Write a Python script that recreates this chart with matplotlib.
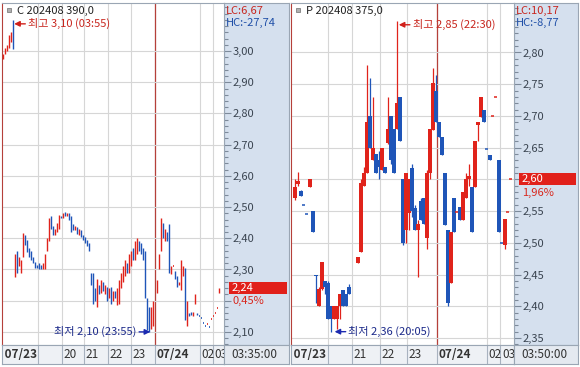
import matplotlib.pyplot as plt
from matplotlib.patches import Rectangle
from matplotlib.transforms import blended_transform_factory, offset_copy
from matplotlib.ticker import MultipleLocator, FixedLocator, FuncFormatter

plt.rcParams['font.family'] = ['Noto Sans CJK KR', 'DejaVu Sans']

# ---- C 202408 390,0 : 5분봉 (slot = 봉 순번) ----
c_slot = list(range(0, 76)) + list(range(77, 109))
c_open = [2.975, 2.990, 3.000, 3.010, 3.030, 3.100, 2.290, 2.350, 2.310, 2.290,
          2.350, 2.410, 2.390, 2.370, 2.350, 2.340, 2.320, 2.315, 2.320, 2.315,
          2.300, 2.300, 2.360, 2.390, 2.460, 2.440, 2.410, 2.420, 2.430, 2.470,
          2.465, 2.485, 2.470, 2.480, 2.460, 2.440, 2.425, 2.435, 2.420, 2.425,
          2.410, 2.405, 2.395, 2.385, 2.290, 2.270, 2.240, 2.200, 2.250, 2.230,
          2.260, 2.220, 2.245, 2.210, 2.245, 2.200, 2.230, 2.190, 2.190, 2.240,
          2.260, 2.280, 2.320, 2.290, 2.310, 2.370, 2.330, 2.350, 2.390, 2.385,
          2.370, 2.360, 2.210, 2.180, 2.110, 2.120,
          2.225, 2.300, 2.360, 2.440, 2.390, 2.420, 2.445, 2.285, 2.310, 2.295,
          2.280, 2.250, 2.250, 2.280, 2.305, 2.120, 2.160, 2.165, 2.150, 2.190,
          2.160, 2.150, 2.145, 2.130, 2.120, 2.125, 2.115, 2.140, 2.150, 2.160,
          2.175, 2.225]
c_high = [2.990, 3.010, 3.020, 3.050, 3.060, 3.100, 2.350, 2.360, 2.340, 2.330,
          2.417, 2.410, 2.395, 2.370, 2.360, 2.340, 2.325, 2.315, 2.320, 2.315,
          2.320, 2.350, 2.400, 2.465, 2.470, 2.440, 2.430, 2.450, 2.475, 2.470,
          2.480, 2.485, 2.480, 2.480, 2.470, 2.445, 2.440, 2.435, 2.430, 2.425,
          2.410, 2.405, 2.395, 2.385, 2.290, 2.290, 2.240, 2.270, 2.250, 2.267,
          2.260, 2.250, 2.245, 2.240, 2.245, 2.230, 2.230, 2.240, 2.265, 2.290,
          2.310, 2.330, 2.320, 2.350, 2.360, 2.370, 2.390, 2.400, 2.390, 2.385,
          2.370, 2.360, 2.210, 2.180, 2.180, 2.200,
          2.265, 2.350, 2.465, 2.450, 2.430, 2.420, 2.445, 2.310, 2.310, 2.295,
          2.280, 2.260, 2.330, 2.310, 2.305, 2.200, 2.160, 2.165, 2.165, 2.220,
          2.160, 2.150, 2.145, 2.130, 2.120, 2.125, 2.115, 2.140, 2.150, 2.160,
          2.175, 2.240]
c_low = [2.975, 2.990, 3.000, 3.010, 3.030, 3.005, 2.275, 2.290, 2.310, 2.290,
         2.340, 2.380, 2.355, 2.340, 2.330, 2.320, 2.305, 2.305, 2.300, 2.300,
         2.300, 2.300, 2.360, 2.390, 2.430, 2.410, 2.410, 2.420, 2.430, 2.465,
         2.465, 2.470, 2.470, 2.460, 2.420, 2.425, 2.425, 2.415, 2.410, 2.405,
         2.395, 2.385, 2.375, 2.360, 2.250, 2.190, 2.200, 2.180, 2.220, 2.225,
         2.230, 2.220, 2.200, 2.210, 2.190, 2.200, 2.210, 2.185, 2.190, 2.240,
         2.260, 2.280, 2.290, 2.290, 2.310, 2.330, 2.330, 2.350, 2.360, 2.350,
         2.330, 2.210, 2.105, 2.100, 2.110, 2.120,
         2.225, 2.300, 2.360, 2.400, 2.390, 2.390, 2.290, 2.285, 2.310, 2.270,
         2.245, 2.250, 2.235, 2.280, 2.138, 2.120, 2.150, 2.155, 2.150, 2.190,
         2.155, 2.150, 2.145, 2.130, 2.120, 2.125, 2.115, 2.140, 2.150, 2.160,
         2.175, 2.225]
c_close = [2.990, 3.010, 3.020, 3.050, 3.060, 3.005, 2.340, 2.300, 2.340, 2.330,
           2.415, 2.380, 2.360, 2.340, 2.330, 2.320, 2.310, 2.305, 2.300, 2.300,
           2.320, 2.350, 2.400, 2.460, 2.430, 2.410, 2.430, 2.450, 2.470, 2.465,
           2.480, 2.470, 2.480, 2.460, 2.425, 2.430, 2.435, 2.420, 2.425, 2.410,
           2.400, 2.390, 2.380, 2.365, 2.260, 2.195, 2.200, 2.255, 2.220, 2.265,
           2.230, 2.250, 2.205, 2.240, 2.200, 2.230, 2.210, 2.240, 2.265, 2.290,
           2.310, 2.330, 2.290, 2.350, 2.360, 2.330, 2.390, 2.400, 2.360, 2.350,
           2.330, 2.210, 2.120, 2.100, 2.180, 2.200,
           2.265, 2.350, 2.465, 2.400, 2.430, 2.390, 2.290, 2.310, 2.310, 2.270,
           2.245, 2.260, 2.330, 2.310, 2.140, 2.200, 2.150, 2.155, 2.165, 2.220,
           2.155, 2.150, 2.145, 2.130, 2.120, 2.125, 2.115, 2.140, 2.150, 2.160,
           2.175, 2.240]
c_grid = [17.5, 29.5, 40.5, 52.5, 64, 76, 98.5, 105]
c_grid_labels = ['', '20', '21', '22', '23', '07/24', '02', '03']

# ---- P 202408 375,0 ----
p_slot = list(range(0, 19)) + list(range(21, 73))
p_open = [2.570, 2.592, 2.582, 2.560, 2.545, 2.588, 2.550, 2.450, 2.400, 2.427,
          2.440, 2.437, 2.400, 2.380, 2.380, 2.400, 2.426, 2.420, 2.430,
          2.468, 2.485, 2.590, 2.610, 2.700, 2.630, 2.640, 2.630, 2.615, 2.620,
          2.657, 2.700, 2.680, 2.680, 2.730, 2.600, 2.520, 2.547, 2.618, 2.555,
          2.520, 2.566, 2.570, 2.508, 2.610, 2.678, 2.740, 2.690, 2.667, 2.610,
          2.520, 2.437, 2.570, 2.549, 2.556, 2.536, 2.570, 2.600, 2.588, 2.588,
          2.685, 2.698, 2.710, 2.648, 2.638, 2.700, 2.730, 2.630, 2.500, 2.497,
          2.549, 2.600]
p_high = [2.600, 2.612, 2.584, 2.560, 2.545, 2.601, 2.550, 2.450, 2.430, 2.470,
          2.440, 2.440, 2.400, 2.400, 2.400, 2.420, 2.426, 2.420, 2.435,
          2.478, 2.600, 2.620, 2.780, 2.760, 2.730, 2.640, 2.645, 2.650, 2.620,
          2.730, 2.700, 2.680, 2.850, 2.730, 2.600, 2.610, 2.600, 2.625, 2.560,
          2.536, 2.570, 2.570, 2.615, 2.680, 2.775, 2.765, 2.690, 2.667, 2.610,
          2.520, 2.517, 2.570, 2.549, 2.556, 2.580, 2.610, 2.625, 2.588, 2.660,
          2.690, 2.730, 2.710, 2.648, 2.638, 2.700, 2.730, 2.630, 2.500, 2.537,
          2.549, 2.600]
p_low = [2.568, 2.590, 2.574, 2.560, 2.545, 2.588, 2.517, 2.405, 2.400, 2.425,
         2.420, 2.380, 2.360, 2.380, 2.365, 2.380, 2.400, 2.400, 2.420,
         2.468, 2.485, 2.590, 2.610, 2.650, 2.630, 2.610, 2.600, 2.615, 2.610,
         2.655, 2.625, 2.610, 2.680, 2.660, 2.497, 2.500, 2.520, 2.540, 2.520,
         2.446, 2.536, 2.530, 2.490, 2.600, 2.678, 2.690, 2.667, 2.638, 2.528,
         2.400, 2.437, 2.517, 2.549, 2.536, 2.536, 2.570, 2.590, 2.517, 2.588,
         2.660, 2.698, 2.690, 2.648, 2.630, 2.700, 2.730, 2.517, 2.500, 2.490,
         2.549, 2.600]
p_close = [2.588, 2.598, 2.574, 2.560, 2.545, 2.601, 2.517, 2.447, 2.427, 2.470,
           2.430, 2.380, 2.380, 2.400, 2.400, 2.420, 2.400, 2.400, 2.420,
           2.478, 2.595, 2.610, 2.690, 2.650, 2.650, 2.610, 2.620, 2.650, 2.610,
           2.680, 2.630, 2.610, 2.720, 2.660, 2.500, 2.610, 2.600, 2.550, 2.520,
           2.530, 2.536, 2.530, 2.610, 2.680, 2.752, 2.690, 2.667, 2.638, 2.528,
           2.405, 2.517, 2.517, 2.549, 2.536, 2.580, 2.600, 2.605, 2.517, 2.660,
           2.690, 2.730, 2.690, 2.648, 2.630, 2.700, 2.730, 2.517, 2.500, 2.537,
           2.549, 2.600]
p_grid = [11, 19, 28.5, 37.5, 47.5, 64, 68.5]
p_grid_labels = ['', '21', '22', '23', '07/24', '02', '03']

W, H = 580, 367
RED, BLUE = '#e0231b', '#1f55b8'
fig = plt.figure(figsize=(W / 100, H / 100), dpi=100)
fig.patch.set_facecolor('white')


def box(x0, y0, x1, y1):
    return [x0 / W, 1 - y1 / H, (x1 - x0) / W, (y1 - y0) / H]


def comma(v, nd=2):
    return f'{v:.{nd}f}'.replace('.', ',')


def panel(x0, x1, sx1, xlim, ylim, step, minor, top_tick, slots, o, h, l, c,
          grid, grid_labels, thin, title, lc, hc, pct, clock, hi_txt, lo_txt):
    # blue price strip
    st = fig.add_axes(box(x1, 3, sx1, 345))
    st.set_facecolor('#d5e0ee')
    st.set_xticks([]); st.set_yticks([])
    for s in st.spines.values():
        s.set_color('#9aa6b4')

    ax = fig.add_axes(box(x0, 3, x1, 345))
    ax.set_xlim(*xlim)
    ax.set_ylim(*ylim)
    ax.set_xticks([])
    for s in ax.spines.values():
        s.set_color('#9aa6b4')
    ax.spines['left'].set_color('#b5403a')
    last = c[-1]
    majors = [round(ylim[0] - ylim[0] % step + step * k, 2) for k in range(0, 40)]
    majors = [m for m in majors if ylim[0] < m <= top_tick + 1e-9]
    ax.yaxis.tick_right()
    ax.yaxis.set_major_locator(FixedLocator(majors))
    ax.yaxis.set_minor_locator(MultipleLocator(minor))
    ax.yaxis.set_major_formatter(FuncFormatter(
        lambda v, p: '' if abs(v - last) < step / 2 else comma(v)))
    ax.tick_params(axis='y', which='both', direction='out', color='#7d8a9a',
                   width=0.8, labelsize=8, labelcolor='#3a4450', pad=1.5)
    ax.tick_params(axis='y', which='major', length=5)
    ax.tick_params(axis='y', which='minor', length=3)
    ax.grid(axis='y', color='#d6d6d6', lw=0.8)
    for g in grid:
        ax.axvline(g, color='#d6d6d6', lw=0.8, zorder=0.5)
    ax.axvline(grid[grid_labels.index('07/24')], color='#b5403a', lw=0.9, zorder=1)

    # bars: red up, blue down, flat by previous close
    prev = c[0]
    for s, op, hi, lo, cl in zip(slots, o, h, l, c):
        if cl > op:
            col = RED
        elif cl < op:
            col = BLUE
        else:
            col = RED if cl >= prev else BLUE
        prev = cl
        if thin:
            if hi == lo:
                ax.hlines(hi, s - 0.25, s + 0.25, color=col, lw=1.2, zorder=3)
            else:
                ax.vlines(s, lo, hi, color=col, lw=1.0, zorder=3)
        else:
            ax.vlines(s, lo, hi, color=col, lw=0.9, zorder=3)
            if cl == op:
                ax.hlines(cl, s - 0.5, s + 0.5, color=col, lw=1.1, zorder=3)
            else:
                ax.bar(s, cl - op, bottom=op, width=1.15, color=col, lw=0, zorder=3)

    # high / low labels (arrow sits a few pixels under the extreme)
    ih = h.index(max(h))
    il = l.index(min(l))
    down = offset_copy(ax.transData, fig=fig, y=-4, units='dots')
    ax.annotate(hi_txt, xy=(slots[ih] + 0.6, h[ih]), xycoords=down, xytext=(10, 0),
                textcoords='offset points', va='center', ha='left', fontsize=8,
                color='#c8261e', zorder=6,
                arrowprops=dict(arrowstyle='-|>', color='#d0201a', lw=1,
                                mutation_scale=8, shrinkA=0, shrinkB=0))
    ax.annotate(lo_txt, xy=(slots[il] + 0.6 if thin else slots[il] + 1.2, l[il]),
                xytext=(-10, 0) if thin else (10, 0), textcoords='offset points',
                va='center', ha='right' if thin else 'left', fontsize=8,
                color='#1c2a8a', zorder=6,
                arrowprops=dict(arrowstyle='-|>', color='#1c2ab0', lw=1,
                                mutation_scale=8, shrinkA=0, shrinkB=0))

    # last price box
    tr = blended_transform_factory(ax.transAxes, ax.transData)
    wpx = (x1 - x0)
    hdat = (ylim[1] - ylim[0]) * 12 / 342
    ax.add_patch(Rectangle((1 + 5 / wpx, last - hdat / 2), (sx1 - x1 - 7) / wpx, hdat,
                           transform=tr, clip_on=False, fc='#e1201a', ec='none', zorder=8))
    ax.text(1 + 8 / wpx, last, comma(last), transform=tr, color='white', fontsize=8,
            va='center', ha='left', zorder=9, clip_on=False)
    ax.annotate(pct, xy=(1 + 8 / wpx, last), xycoords=tr, xytext=(0, -9.5),
                textcoords='offset points', color='#d8281e', fontsize=8,
                va='center', ha='left', zorder=9)

    # header texts
    fig.add_artist(Rectangle(((x0 + 5) / W, 1 - 12 / H), 4 / W, 4 / H,
                             transform=fig.transFigure,
                             fc='#b0b0b0', ec='#808080', lw=0.6))
    fig.text((x0 + 15) / W, 1 - 11 / H, title, fontsize=8, color='#222222', va='center')
    fig.text((x1 + 2) / W, 1 - 11 / H, lc, fontsize=8, color='#c8261e', va='center')
    fig.text((x1 + 2) / W, 1 - 23 / H, hc, fontsize=8, color='#2050a8', va='center')

    # bottom time strip
    bt = fig.add_axes(box(x0, 345, x1, 364))
    bt.set_xlim(*xlim)
    bt.set_ylim(0, 1)
    bt.set_facecolor('#eef1f5')
    bt.set_xticks([]); bt.set_yticks([])
    for s in bt.spines.values():
        s.set_color('#9aa6b4')
    bt.text(xlim[0], 0.5, ' 07/23', fontsize=8.5, fontweight='bold', color='#333333',
            va='center', ha='left')
    for g, lab in zip(grid, grid_labels):
        bt.axvline(g, color='#a8b2bf', lw=0.8)
        if lab:
            bt.annotate(lab, xy=(g, 0.5), xytext=(1, 0), textcoords='offset points',
                        fontsize=8.5, color='#333333', va='center', ha='left',
                        fontweight='bold' if '/' in lab else 'normal')
    bs = fig.add_axes(box(x1, 345, sx1, 364))
    bs.set_facecolor('#e4e9f0')
    bs.set_xticks([]); bs.set_yticks([])
    for s in bs.spines.values():
        s.set_color('#9aa6b4')
    bs.text(0.12, 0.5, clock, fontsize=8.5, color='#333333', va='center', ha='left',
            transform=bs.transAxes)


panel(2, 224, 289, (-0.5, 110.5), (2.058, 3.154), 0.10, 0.02, 3.00,
      c_slot, c_open, c_high, c_low, c_close, c_grid, c_grid_labels, True,
      'C 202408 390,0', 'LC:6,67', 'HC:-27,74', '0,45%', '03:35:00',
      '최고 3,10 (03:55)', '최저 2,10 (23:55)')
panel(291, 514, 578, (-1.33, 73.0), (2.339, 2.878), 0.05, 0.01, 2.80,
      p_slot, p_open, p_high, p_low, p_close, p_grid, p_grid_labels, False,
      'P 202408 375,0', 'LC:10,17', 'HC:-8,77', '1,96%', '03:50:00',
      '최고 2,85 (22:30)', '최저 2,36 (20:05)')

fig.savefig('out.png', dpi=100)
